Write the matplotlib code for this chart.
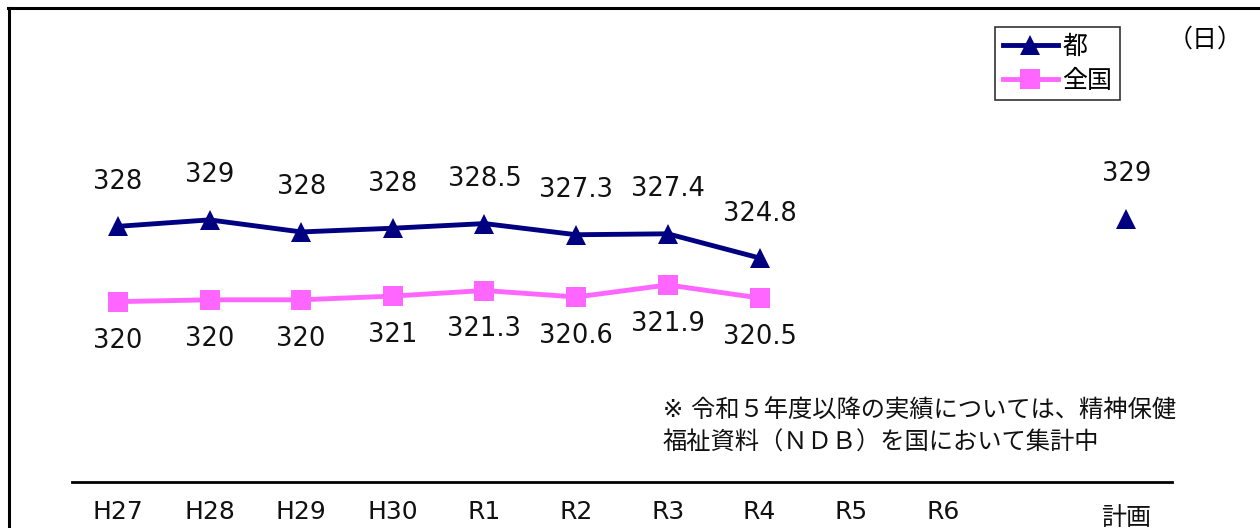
import matplotlib
matplotlib.use("Agg")
import matplotlib.pyplot as plt
from matplotlib.lines import Line2D

plt.rcParams['font.family'] = ['DejaVu Sans', 'Noto Sans CJK JP']

# data
years = ['H27', 'H28', 'H29', 'H30', 'R1', 'R2', 'R3', 'R4', 'R5', 'R6']
plan_name = '計画'
tokyo = [328.2, 328.9, 327.6, 328.0, 328.5, 327.3, 327.4, 324.8]
tokyo_labels = ['328', '329', '328', '328', '328.5', '327.3', '327.4', '324.8']
national = [320.1, 320.3, 320.3, 320.7, 321.3, 320.6, 321.9, 320.5]
national_labels = ['320', '320', '320', '321', '321.3', '320.6', '321.9', '320.5']
plan_value = 329
plan_label = '329'

navy = '#000080'
pink = '#FF66FF'

fig = plt.figure(figsize=(12.6, 5.28), dpi=100)
ax = fig.add_axes([72 / 1260, 46 / 528, 1100 / 1260, 462 / 528])

x_tokyo = list(range(len(tokyo)))
x_nat = list(range(len(national)))
x_plan = len(years) + 1

ax.plot(x_tokyo, tokyo, color=navy, lw=3.5, marker='^', ms=15, mew=0, label='都')
ax.plot(x_nat, national, color=pink, lw=3.5, marker='s', ms=15, mew=0, label='全国')
ax.plot([x_plan], [plan_value], color=navy, lw=0, marker='^', ms=15, mew=0)

for x, y, s in zip(x_tokyo, tokyo, tokyo_labels):
    ax.annotate(s, (x, y), xytext=(0, 32), textcoords='offset points',
                ha='center', va='center', fontsize=18.5, color='#111111')
for x, y, s in zip(x_nat, national, national_labels):
    ax.annotate(s, (x, y), xytext=(0, -28), textcoords='offset points',
                ha='center', va='center', fontsize=18.5, color='#111111')
ax.annotate(plan_label, (x_plan, plan_value), xytext=(0, 32), textcoords='offset points',
            ha='center', va='center', fontsize=18.5, color='#111111')

ax.set_xlim(-0.5, x_plan + 0.5)
ax.set_ylim(300.7, 350.4)
ax.set_xticks(list(range(len(years))) + [x_plan])
ax.set_xticklabels(years + [plan_name], fontsize=18, color='#111111')
ax.get_xticklabels()[-1].set_y(-0.012)
ax.tick_params(axis='x', length=0, pad=13)
ax.set_yticks([])
for side in ['top', 'right', 'left']:
    ax.spines[side].set_visible(False)
ax.spines['bottom'].set_linewidth(2)
ax.patch.set_alpha(0)

leg = ax.legend(loc='upper left', bbox_to_anchor=(995 / 1260, 1 - 27 / 528),
                bbox_transform=fig.transFigure, borderaxespad=0, fontsize=18,
                fancybox=False, frameon=True, edgecolor='black', handlelength=2.2,
                handletextpad=0.2, labelspacing=0.4, borderpad=0.3)
leg.get_frame().set_linewidth(1.2)

fig.text(1205 / 1260, 1 - 40 / 528, '（日）', ha='center', va='center', fontsize=18)
fig.text(663 / 1260, 1 - 410 / 528, '※ 令和５年度以降の実績については、精神保健',
         ha='left', va='center', fontsize=17.5, color='#111111')
fig.text(663 / 1260, 1 - 443 / 528, '福祉資料（ＮＤＢ）を国において集計中',
         ha='left', va='center', fontsize=17.5, color='#111111')

# outer frame (left and top edges)
fig.add_artist(Line2D([9 / 1260, 9 / 1260], [0, 1 - 8 / 528], transform=fig.transFigure,
                      color='black', lw=2.2))
fig.add_artist(Line2D([8 / 1260, 1], [1 - 8 / 528, 1 - 8 / 528], transform=fig.transFigure,
                      color='black', lw=2.2))

fig.savefig('out.png', dpi=100)
